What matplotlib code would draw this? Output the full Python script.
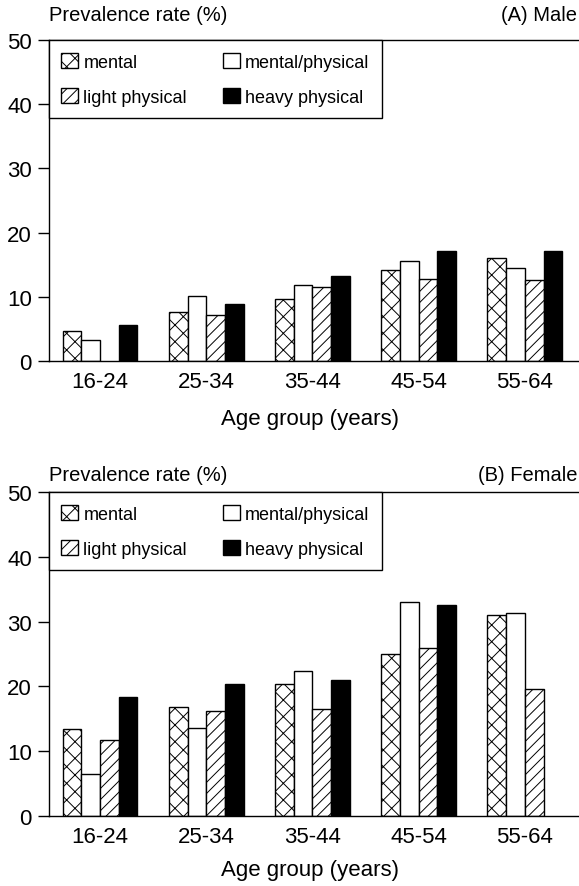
import numpy as np
import matplotlib
matplotlib.use("Agg")
import matplotlib.pyplot as plt
from matplotlib.patches import Patch

plt.rcParams['font.family'] = ['Liberation Sans', 'DejaVu Sans']
plt.rcParams['hatch.linewidth'] = 0.7

groups = ['16-24', '25-34', '35-44', '45-54', '55-64']
series = ['mental', 'mental/physical', 'light physical', 'heavy physical']

male_mental = [4.7, 7.7, 9.6, 14.2, 16.0]
male_mentphys = [3.3, 10.1, 11.8, 15.6, 14.5]
male_light = [np.nan, 7.2, 11.6, 12.8, 12.6]
male_heavy = [5.6, 8.9, 13.3, 17.1, 17.2]

female_mental = [13.4, 16.75, 20.3, 25.0, 31.0]
female_mentphys = [6.5, 13.6, 22.3, 33.0, 31.3]
female_light = [11.8, 16.2, 16.5, 26.0, 19.6]
female_heavy = [18.4, 20.3, 21.0, 32.6, np.nan]

styles = [dict(facecolor='white', hatch='xx'),
          dict(facecolor='white'),
          dict(facecolor='white', hatch='///'),
          dict(facecolor='black')]

W, H = 579, 887
fig = plt.figure(figsize=(W / 100, H / 100), dpi=100)


def draw_panel(ax, data):
    x = np.arange(len(groups))
    w = 0.176
    for i, vals in enumerate(data):
        ax.bar(x + (i - 1.5) * w, vals, w, edgecolor='black', linewidth=1.0,
               **styles[i])
    ax.set_xlim(-0.485, 4.51)
    ax.set_ylim(0, 50)
    ax.set_yticks([0, 10, 20, 30, 40, 50])
    ax.set_xticks(x)
    ax.set_xticklabels(groups)
    ax.tick_params(axis='x', length=0, pad=7, labelsize=16)
    ax.tick_params(axis='y', length=8, width=1, pad=4, labelsize=16)
    ax.spines['right'].set_visible(False)
    for s in ['left', 'bottom', 'top']:
        ax.spines[s].set_linewidth(1.0)
    # legend order: column-wise fill, so mental/light first, then the other two
    handles = [Patch(edgecolor='black', linewidth=1.0, label=series[i], **styles[i])
               for i in [0, 2, 1, 3]]
    leg = ax.legend(handles=handles, ncol=2, loc='upper left',
                    bbox_to_anchor=(0, 1), borderaxespad=0, fancybox=False,
                    framealpha=1, edgecolor='black', fontsize=13,
                    handlelength=0.95, handleheight=0.95, handletextpad=0.28,
                    columnspacing=2.0, labelspacing=0.95, borderpad=0.7)
    leg.get_frame().set_linewidth(1.0)


ax1 = fig.add_axes([48.5 / W, 1 - 362 / H, 1 - 48.5 / W, 321 / H])
draw_panel(ax1, [male_mental, male_mentphys, male_light, male_heavy])
ax2 = fig.add_axes([48.5 / W, 1 - 817 / H, 1 - 48.5 / W, 324 / H])
draw_panel(ax2, [female_mental, female_mentphys, female_light, female_heavy])

fig.text(49 / W, 1 - 21 / H, 'Prevalence rate (%)', fontsize=14.5, va='baseline')
fig.text(577 / W, 1 - 21 / H, '(A) Male', fontsize=14.5, va='baseline', ha='right')
fig.text(310 / W, 1 - 425 / H, 'Age group (years)', fontsize=16, va='baseline', ha='center')

fig.text(49 / W, 1 - 481 / H, 'Prevalence rate (%)', fontsize=14.5, va='baseline')
fig.text(577 / W, 1 - 481 / H, '(B) Female', fontsize=14.5, va='baseline', ha='right')
fig.text(310 / W, 1 - 876 / H, 'Age group (years)', fontsize=16, va='baseline', ha='center')

fig.savefig('out.png', dpi=100)
